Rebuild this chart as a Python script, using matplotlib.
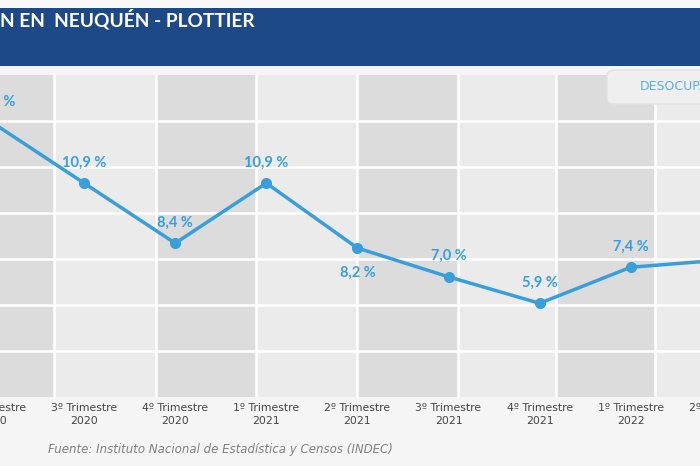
import matplotlib.pyplot as plt
from matplotlib.patches import FancyBboxPatch, Rectangle

categories = [
    "2º Trimestre\n2020", "3º Trimestre\n2020", "4º Trimestre\n2020",
    "1º Trimestre\n2021", "2º Trimestre\n2021", "3º Trimestre\n2021",
    "4º Trimestre\n2021", "1º Trimestre\n2022", "2º Trimestre\n2022",
]
desocupacion = [13.4, 10.9, 8.4, 10.9, 8.2, 7.0, 5.9, 7.4, 7.7]
# label above (+1) or below (-1) the point
label_side = [1, 1, 1, 1, -1, 1, 1, 1, 1]

title = "N EN  NEUQUÉN - PLOTTIER"
series_name = "DESOCUPACIÓN"
source = "Fuente: Instituto Nacional de Estadística y Censos (INDEC)"

BLUE = "#389fda"
DARK_COL = "#dddcdc"
LIGHT_COL = "#ebebeb"
BAR_BLUE = "#1d4989"

W, H = 700, 466
fig = plt.figure(figsize=(W / 100, H / 100), dpi=100, facecolor="#f5f5f5")

# title band
fig.patches.append(Rectangle((0, 1 - 66 / H), 1, 58 / H, transform=fig.transFigure,
                             facecolor=BAR_BLUE, edgecolor="none", zorder=0))
fig.patches.append(Rectangle((0, 1 - 8 / H), 1, 8 / H, transform=fig.transFigure,
                             facecolor="#f8f8f8", edgecolor="none", zorder=0))
fig.text(0, 1 - 19 / H, title, color="white", fontsize=13.8, fontweight="bold",
         family="Lato", ha="left", va="center")

ax = fig.add_axes([0, (H - 397) / H, 1, 322 / H])
ax.set_facecolor(LIGHT_COL)
for s in ax.spines.values():
    s.set_visible(False)

# decorative background columns (axes fraction)
col_edges = [0, 54, 156, 256, 357, 458, 556, 655, 700]
for k in range(len(col_edges) - 1):
    x0, x1 = col_edges[k] / W, col_edges[k + 1] / W
    ax.add_patch(Rectangle((x0, 0), x1 - x0, 1, transform=ax.transAxes,
                           facecolor=DARK_COL if k % 2 == 0 else LIGHT_COL,
                           edgecolor="none", zorder=0))
    if k > 0:
        ax.plot([x0, x0], [0, 1], transform=ax.transAxes, color="white", lw=1.8, zorder=1)
for k in range(1, 7):
    ax.plot([0, 1], [k / 7, k / 7], transform=ax.transAxes, color="white", lw=1.8, zorder=1)

x = list(range(len(categories)))
ax.plot(x, desocupacion, color=BLUE, lw=2.5, marker="o", markersize=7,
        zorder=3, clip_on=True)

for xi, v, side in zip(x, desocupacion, label_side):
    ax.annotate(f"{v:.1f}".replace(".", ",") + " %", (xi, v),
                xytext=(0, 15 if side > 0 else -18), textcoords="offset points",
                ha="center", va="center", color=BLUE, fontsize=10.5,
                family="Lato", fontweight="bold", zorder=4, annotation_clip=False)

# category labels drawn as text so the partly visible ones at the edges still show
ax.set_xticks([])
ax.set_yticks([])
for xi, cat in zip(x, categories):
    ax.annotate(cat, (xi, 0), xycoords=ax.get_xaxis_transform(),
                xytext=(0, -4.5), textcoords="offset points", ha="center", va="top",
                fontsize=7.8, color="#444444", linespacing=1.35, annotation_clip=False)
ax.set_xlim(7 / 91.1, 707 / 91.1)
ax.set_ylim(2.0, 15.4)

# legend box
fig.patches.append(FancyBboxPatch((607 / W, 1 - 104 / H), 160 / W, 34 / H,
                                  boxstyle="round,pad=0,rounding_size=0.012",
                                  transform=fig.transFigure, facecolor="#efefef",
                                  edgecolor="#e2e2e2", lw=1, zorder=5))
fig.text(640 / W, 1 - 87 / H, series_name, color="#5aaee0", fontsize=9,
         ha="left", va="center", zorder=6)

fig.text(48 / W, 1 - 449 / H, source, color="#808080", fontsize=8.5,
         style="italic", ha="left", va="center")

fig.savefig("out.png", dpi=100, facecolor=fig.get_facecolor())
